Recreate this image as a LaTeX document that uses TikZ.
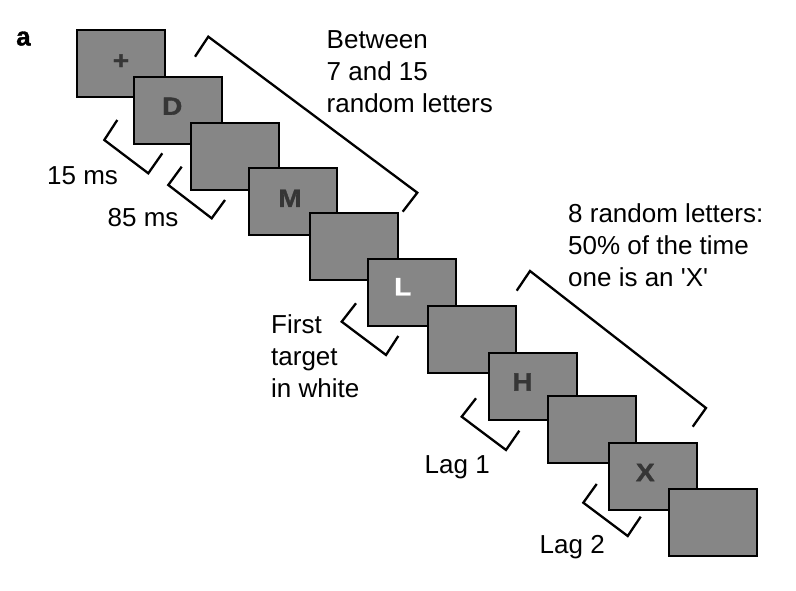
\documentclass[tikz,border=0pt]{standalone}
\usepackage{fontspec}
\setmainfont{Liberation Sans}
\newfontface\heavyface[FakeBold=1.3]{Liberation Sans Bold}
\usetikzlibrary{calc}
\definecolor{boxgray}{HTML}{868686}
\definecolor{lettergray}{HTML}{363636}
\begin{document}
\begin{tikzpicture}[x=1pt,y=-1pt,
  frame/.style={draw=black, fill=boxgray, line width=2.2pt, minimum width=88pt, minimum height=67pt, inner sep=0pt},
  glyph/.style={font=\heavyface\fontsize{25}{25}\selectfont, text=lettergray, inner sep=0pt, xscale=1.12},
  lbl/.style={font=\fontsize{26}{32}\selectfont, align=left, anchor=base west, inner sep=0pt},
  brk/.style={draw=black, line width=2.3pt, line join=miter}]
\useasboundingbox (0,0) rectangle (796,591);

% panel letter
\node[font=\heavyface\fontsize{26}{26}\selectfont, anchor=base west, inner sep=0pt] (panel) at (16,45.5) {a};

% stimulus frames
\node[frame] (b0) at (121,63.5) {};
\node[glyph] (g0) at (121,61.7) {+};
\node[frame] (b1) at (177.7,110.2) {};
\node[glyph] (g1) at (172.2,106.2) {D};
\node[frame] (b2) at (235,156.2) {};
\node[frame] (b3) at (293.3,201.2) {};
\node[glyph] (g3) at (290,198.3) {M};
\node[frame] (b4) at (354.3,246.2) {};
\node[frame] (b5) at (412.3,292.8) {};
\node[glyph, text=white] (g5) at (402.8,286.7) {L};
\node[frame] (b6) at (471.7,339.8) {};
\node[frame] (b7) at (532.7,386.8) {};
\node[glyph] (g7) at (522.5,382) {H};
\node[frame] (b8) at (592,429.5) {};
\node[frame] (b9) at (653.3,476.8) {};
\node[glyph] (g9) at (645.3,472.5) {X};
\node[frame] (b10) at (713,522.5) {};

% large brackets
\draw[brk] (195,56.7) -- (208.3,36.7) -- (417.3,192.7) -- (402.7,211.7);
\draw[brk] (516.7,290.7) -- (530,271) -- (706,408) -- (692.7,426.7);

% small brackets
\draw[brk] (117.3,120) -- (104.3,140) -- (148.3,173.3) -- (162.3,153.3);
\draw[brk] (181.7,166.7) -- (168.3,185) -- (211.7,218.3) -- (225,200);
\draw[brk] (356,303.3) -- (341.7,321.7) -- (386,355) -- (398.3,336);
\draw[brk] (476,398.3) -- (461.7,416.7) -- (506,450) -- (519.3,430.7);
\draw[brk] (596.7,484) -- (583.3,502.7) -- (627.7,536) -- (640.7,516.7);

% labels (base anchor = baseline of last line)
\node[lbl] (tbetween) at (326.5,112.7) {Between\\7 and 15\\random letters};
\node[lbl] (teight) at (568,286.7) {8 random letters:\\50\% of the time\\one is an \textquotesingle X\textquotesingle};
\node[lbl] (t15) at (47,185) {15 ms};
\node[lbl] (t85) at (107.5,226.7) {85 ms};
\node[lbl] (tfirst) at (271,397) {First\\target\\in white};
\node[lbl] (tlag1) at (424.5,473.3) {Lag 1};
\node[lbl] (tlag2) at (539.5,553.3) {Lag 2};
\end{tikzpicture}
\end{document}
